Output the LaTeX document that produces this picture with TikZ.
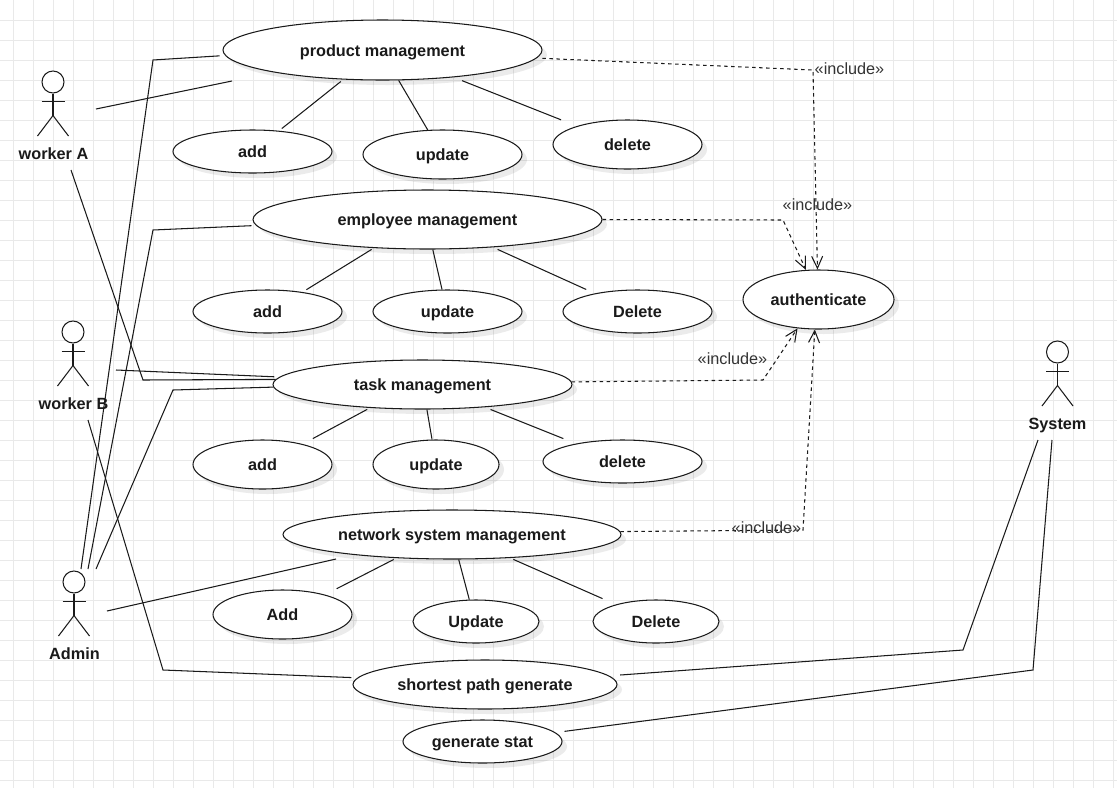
\documentclass[tikz,border=0pt]{standalone}
\usepackage{fontspec}
\setmainfont{Liberation Sans}
\usetikzlibrary{arrows.meta}
\usetikzlibrary{shapes.geometric}
\usetikzlibrary{shadows}

\definecolor{gridgray}{HTML}{E9E9E9}
\definecolor{inkdark}{HTML}{1A1A1A}
\definecolor{inkgray}{HTML}{333333}

\tikzset{
    usecase/.style 2 args={ellipse, draw=inkdark, fill=white, line width=1.05pt, inner sep=0pt,
        minimum width=#1, minimum height=#2, text=inkdark, text height=12pt, text depth=0pt,
        font=\fontsize{16.25}{18}\selectfont\bfseries,
        drop shadow={shadow xshift=5pt, shadow yshift=-5pt, fill=black, opacity=0.08}},
    actorname/.style={inner sep=0pt, text=inkdark, text height=12pt, text depth=2pt,
        font=\fontsize{16.25}{18}\selectfont\bfseries},
    stereotype/.style={inner sep=0pt, text=inkgray, text height=12pt, text depth=2pt,
        font=\fontsize{16.25}{18}\selectfont},
    link/.style={line width=1.05pt, draw=inkdark},
    includes/.style={link, dash pattern=on 3.5pt off 3.5pt, -{Straight Barb[length=12pt,width=11pt,line width=1.05pt]}}
}

\begin{document}
\begin{tikzpicture}[x=1pt,y=-1pt]
    \useasboundingbox (0,0) rectangle (1117,788);
    \fill[white] (0,0) rectangle (1117,788);

    % draws background grid
    \foreach \gx in {13,33,...,1113}
        \draw[gridgray,line width=0.8pt] (\gx,0) -- (\gx,788);
    \foreach \gy in {20,40,...,780}
        \draw[gridgray,line width=0.8pt] (0,\gy) -- (1117,\gy);

    % draws actors
    \foreach \actorid/\hx/\hy/\lx/\actortext in {workerA/53/82/53.5/worker A,workerB/73/332/73.5/worker B,admin/74/582/74.5/Admin,system/1057.5/352/1057.5/System}{
        \node[circle, draw=inkdark, line width=1.05pt, inner sep=0pt, minimum size=22, fill=white] (\actorid head) at (\hx,\hy) {};
        \node[actorname] (\actorid) at (\lx,\hy+72) {\actortext};
        \draw[link] (\actorid head.south) -- ++(0,22) coordinate (\actorid hip);
        \draw[link] ([xshift=-11.5pt,yshift=-8pt]\actorid head.south) -- ([xshift=11.5pt,yshift=-8pt]\actorid head.south);
        \draw[link] (\hx-15.5,\hy+54) -- (\actorid hip) -- (\hx+15.5,\hy+54);
    }

    % draws use cases
    \node[usecase={319}{60}] (productMgmt) at (382.5,50) {product management};
    \node[usecase={159}{43}] (addProduct) at (252.5,151.5) {add};
    \node[usecase={159}{49}] (updateProduct) at (442.5,154.5) {update};
    \node[usecase={149}{49}] (deleteProduct) at (627.5,144.5) {delete};

    \node[usecase={349}{59}] (employeeMgmt) at (427.5,219.5) {employee management};
    \node[usecase={149}{43}] (addEmployee) at (267.5,311.5) {add};
    \node[usecase={149}{43}] (updateEmployee) at (447.5,311.5) {update};
    \node[usecase={149}{43}] (deleteEmployee) at (637.5,311.5) {Delete};

    \node[usecase={151}{59}] (authenticate) at (818.5,299.5) {authenticate};

    \node[usecase={299}{49}] (taskMgmt) at (422.5,384.5) {task management};
    \node[usecase={139}{49}] (addTask) at (262.5,464.5) {add};
    \node[usecase={126}{49}] (updateTask) at (436,464.5) {update};
    \node[usecase={159}{43}] (deleteTask) at (622.5,461.5) {delete};

    \node[usecase={338}{49}] (networkMgmt) at (452,534.5) {network system management};
    \node[usecase={139}{49}] (addNetwork) at (282.5,614.5) {Add};
    \node[usecase={126}{43}] (updateNetwork) at (476,621.5) {Update};
    \node[usecase={126}{43}] (deleteNetwork) at (656,621.5) {Delete};

    \node[usecase={264}{49}] (shortestPath) at (485,684.5) {shortest path generate};
    \node[usecase={159}{43}] (generateStat) at (482.5,741.5) {generate stat};

    % free ends next to the actors
    \coordinate (workerAout) at (96,109);
    \coordinate (workerAstop) at (232,81);
    \coordinate (workerAlow) at (71,170);
    \coordinate (workerBout) at (116,370);
    \coordinate (workerBlow) at (88,420);
    \coordinate (adminOne) at (81,569);
    \coordinate (adminTwo) at (88,569);
    \coordinate (adminThree) at (96,569);
    \coordinate (adminFour) at (107,611);
    \coordinate (adminStop) at (336,559);
    \coordinate (systemOne) at (1038,440);
    \coordinate (systemTwo) at (1052,440);

    % draws actor links
    \draw[link] (workerAout) -- (workerAstop);
    \draw[link] (workerAlow) -- (143,380) -- (taskMgmt.178.7);
    \draw[link, shorten >=5pt] (workerBout) -- (taskMgmt.177.5);
    \draw[link, shorten >=6pt] (workerBlow) -- (163,670) -- (shortestPath.177.2);
    \draw[link, shorten >=5.5pt] (adminOne) -- (153,60) -- (productMgmt.182.5);
    \draw[link, shorten >=4.5pt] (adminTwo) -- (153,230) -- (employeeMgmt.182.1);
    \draw[link] (adminThree) -- (173,390) -- (taskMgmt.181);
    \draw[link] (adminFour) -- (adminStop);
    \draw[link, shorten >=11pt] (systemOne) -- (963,650) -- (shortestPath.4.56);
    \draw[link, shorten >=9pt] (systemTwo) -- (1033,670) -- (generateStat.7.4);

    % draws links to the sub use cases
    \draw[link, shorten <=3pt, shorten >=3.5pt] (productMgmt.217.4) -- (addProduct.38.3);
    \draw[link] (productMgmt.298.8) -- (updateProduct.121.3);
    \draw[link, shorten <=9pt, shorten >=17pt] (productMgmt.339.6) -- (deleteProduct.160);
    \draw[link, shorten <=2.5pt, shorten >=4.5pt] (employeeMgmt.208.3) -- (addEmployee.29.7);
    \draw[link] (employeeMgmt.280.6) -- (updateEmployee.104.3);
    \draw[link, shorten <=5pt, shorten >=9.5pt] (employeeMgmt.337.5) -- (deleteEmployee.157.8);
    \draw[link, shorten <=3pt, shorten >=11.5pt] (taskMgmt.204.5) -- (addTask.27.1);
    \draw[link] (taskMgmt.280.4) -- (updateTask.99.3);
    \draw[link, shorten <=6pt, shorten >=13.5pt] (taskMgmt.340) -- (deleteTask.159.2);
    \draw[link, shorten <=3pt, shorten >=13pt] (networkMgmt.203.5) -- (addNetwork.25.2);
    \draw[link] (networkMgmt.285.9) -- (updateNetwork.107.3);
    \draw[link, shorten <=3.5pt, shorten >=14.5pt] (networkMgmt.338.2) -- (deleteNetwork.157.3);

    % draws include arrows
    \draw[includes, shorten <=5.5pt] (productMgmt.357.5) -- (813,70) -- (authenticate.92.8);
    \draw[includes] (employeeMgmt.0) -- (783,220) -- (authenticate.113.9);
    \draw[includes] (taskMgmt.1) -- (763,380) -- (authenticate.234.8);
    \draw[includes] (networkMgmt.1) -- (803,530) -- (authenticate.263.5);

    % labels include arrows
    \node[stereotype] (includeProduct) at (849.5,69) {«include»};
    \node[stereotype] (includeEmployee) at (817.5,205) {«include»};
    \node[stereotype] (includeTask) at (732.5,359) {«include»};
    \node[stereotype] (includeNetwork) at (766.5,528) {«include»};
\end{tikzpicture}
\end{document}
